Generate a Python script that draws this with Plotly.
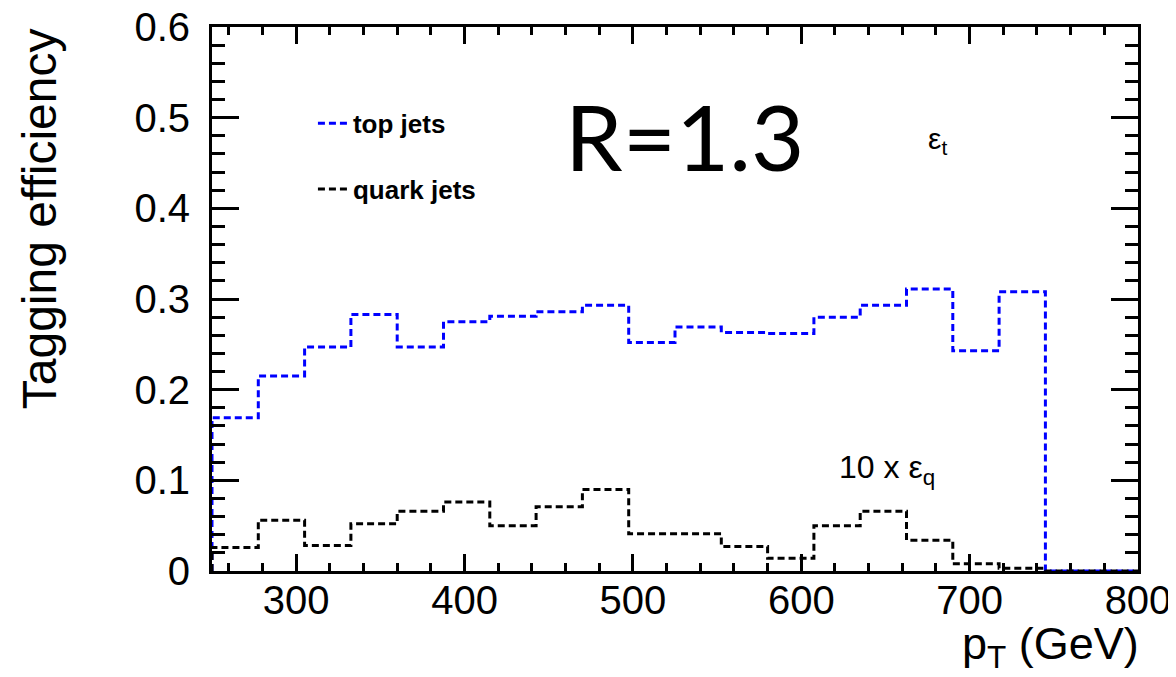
import plotly.graph_objects as go

# ---- data ----
bin_edges = [250, 277.5, 305, 332.5, 360, 387.5, 415, 442.5, 470, 497.5, 525,
             552.5, 580, 607.5, 635, 662.5, 690, 717.5, 745, 772.5, 800]
top_eff = [0.169, 0.215, 0.247, 0.283, 0.247, 0.275, 0.281, 0.286, 0.293, 0.252,
           0.269, 0.263, 0.262, 0.280, 0.293, 0.311, 0.243, 0.308, 0.0, 0.0]
quark_eff_x10 = [0.026, 0.056, 0.028, 0.052, 0.066, 0.076, 0.050, 0.071, 0.090, 0.041,
                 0.041, 0.027, 0.014, 0.050, 0.066, 0.034, 0.008, 0.003, 0.0, 0.0]
series_names = ["top jets", "quark jets"]
y_ticks = [0, 0.1, 0.2, 0.3, 0.4, 0.5, 0.6]
y_ticklabels = ["0", "0.1", "0.2", "0.3", "0.4", "0.5", "0.6"]
x_ticks = [300, 400, 500, 600, 700, 800]


def step_xy(edges, vals):
    xs = [edges[0]] + list(edges[:-1]) + [edges[-1]]
    ys = [0] + list(vals) + [vals[-1]]
    return xs, ys


FONT = "Liberation Sans, Arial, sans-serif"
fig = go.Figure()
for name, vals, col, grp in [(series_names[0], top_eff, "#0000ff", "a"),
                             (series_names[1], quark_eff_x10, "#000000", "b")]:
    xs, ys = step_xy(bin_edges, vals)
    fig.add_trace(go.Scatter(x=xs, y=ys, mode="lines", name=name, legendgroup=grp,
                             line=dict(color=col, width=3, dash="7px,4px", shape="hv"),
                             hoverinfo="skip"))

axis_common = dict(showline=True, linecolor="black", linewidth=3, mirror="allticks",
                   ticks="inside", tickcolor="black", tickwidth=2.5, showgrid=False,
                   zeroline=False, automargin=False, ticklabeloverflow="allow",
                   tickfont=dict(family=FONT, size=40, color="black"))

fig.update_xaxes(range=[250, 800], tickvals=x_ticks, ticklen=17,
                 minor=dict(dtick=20, tick0=0, ticklen=8, tickwidth=2.5,
                            tickcolor="black", ticks="inside", showgrid=False),
                 ticklabelstandoff=-8, **axis_common)
fig.update_yaxes(range=[0, 0.6], tickvals=y_ticks, ticktext=y_ticklabels, ticklen=27,
                 minor=dict(dtick=0.02, tick0=0, ticklen=13, tickwidth=2.5,
                            tickcolor="black", ticks="inside", showgrid=False),
                 ticklabelstandoff=11, **axis_common)

annotations = [
    dict(text="Tagging efficiency", xref="paper", yref="paper", x=-0.186, y=0.648,
         xanchor="center", yanchor="middle", textangle=-90, showarrow=False,
         font=dict(family=FONT, size=48, color="black")),
    dict(text="p<sub>T</sub>&nbsp;(GeV)", xref="paper", yref="paper", x=1.003, y=-0.138,
         xanchor="right", yanchor="middle", showarrow=False,
         font=dict(family=FONT, size=45, color="black")),
    dict(text="R=1.3", xref="paper", yref="paper", x=0.510, y=0.80,
         xanchor="center", yanchor="middle", showarrow=False,
         font=dict(family="Lato, Noto Sans, sans-serif", size=92, color="black")),
    dict(text="ε<sub>t</sub>", xref="paper", yref="paper", x=0.784, y=0.792,
         xanchor="center", yanchor="middle", showarrow=False,
         font=dict(family=FONT, size=30, color="black")),
    dict(text="10 x ε<sub>q</sub>", xref="paper", yref="paper", x=0.729, y=0.186,
         xanchor="center", yanchor="middle", showarrow=False,
         font=dict(family=FONT, size=32, color="black")),
]

# the page body adds an 8px offset, so the figure is 8px smaller on each axis
fig.update_layout(
    width=1168, height=669, autosize=False,
    margin=dict(l=204, r=38, t=19, b=106),
    paper_bgcolor="white", plot_bgcolor="white",
    annotations=annotations,
    showlegend=True,
    legend=dict(x=0.109, y=0.866, xanchor="left", yanchor="top",
                bgcolor="rgba(0,0,0,0)", traceorder="grouped", tracegroupgap=29,
                font=dict(family=FONT, size=26, color="black", weight="bold"),
                itemwidth=30),
)

fig.write_html("out.html")
